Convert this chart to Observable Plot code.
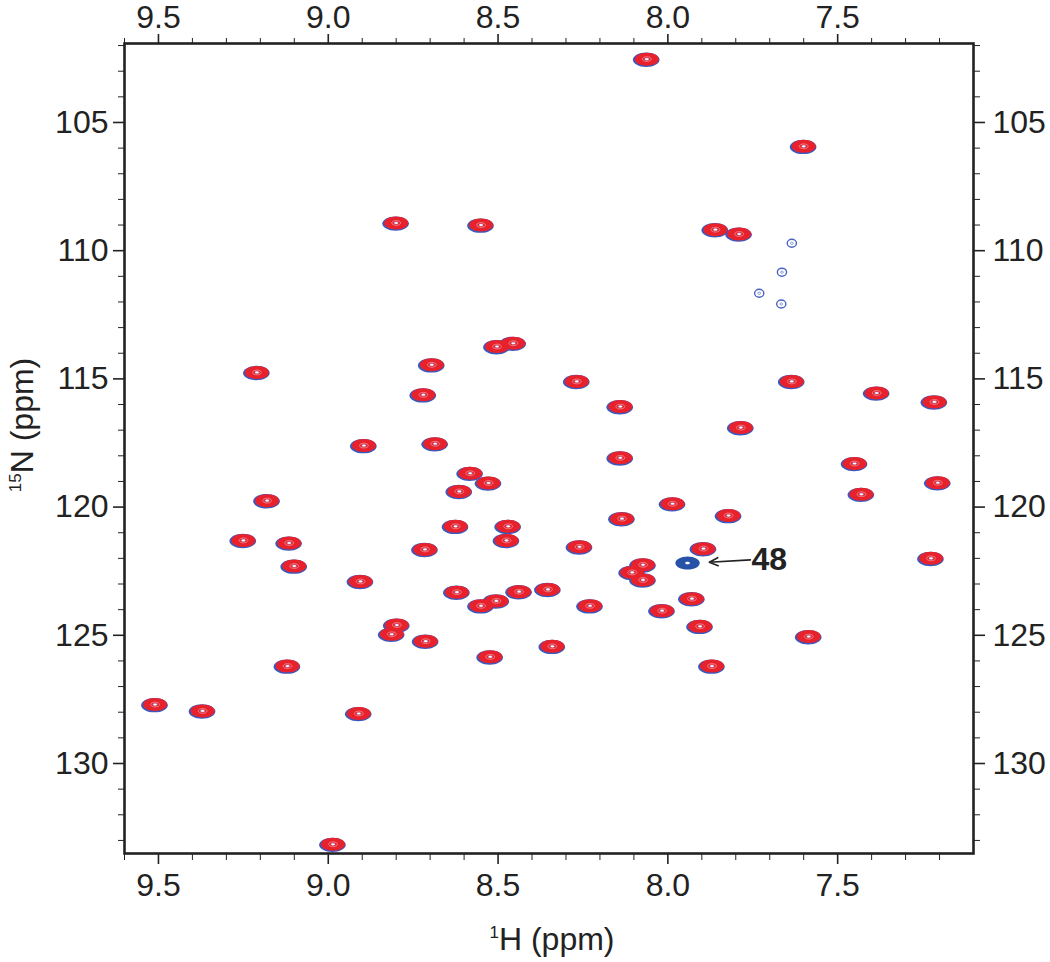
<!DOCTYPE html>
<html><head><meta charset="utf-8">
<script src="https://cdn.jsdelivr.net/npm/d3@7"></script>
<script src="https://cdn.jsdelivr.net/npm/@observablehq/plot@0.6"></script>
<style>
body{margin:0;background:#fff;}
svg text{font-family:"Liberation Sans",Arial,sans-serif;}
</style></head><body><div id="chart"></div>
<script>
// Cross peaks (1H ppm, 15N ppm) present in both spectra (red over blue)
const peakH = [8.062,7.60,8.80,8.55,7.86,7.79,8.503,8.455,8.695,8.72,8.268,8.14,8.685,8.582,8.528,8.614,8.14,8.135,7.986,7.821,7.895,8.073,8.073,8.105,7.929,8.017,8.905,8.621,8.55,8.505,8.438,8.353,8.229,8.798,8.813,8.713,8.523,8.34,9.51,8.986,
  9.21,8.895,9.18,9.25,9.115,9.10,9.12,9.37,8.91,8.715,8.625,8.47,8.475,8.26,7.635,7.385,7.215,7.785,7.45,7.43,7.205,7.225,7.585,7.905,7.87];
const peakN = [102.53,105.93,108.92,109.0,109.18,109.35,113.74,113.61,114.45,115.62,115.10,116.08,117.53,118.68,119.06,119.39,118.08,120.45,119.87,120.33,121.62,122.25,122.84,122.55,123.57,124.04,122.9,123.32,123.85,123.66,123.30,123.21,123.85,124.60,124.96,125.23,125.84,125.43,127.70,133.15,
  114.75,117.6,119.75,121.3,121.4,122.3,126.2,127.95,128.05,121.65,120.75,120.75,121.3,121.55,115.1,115.55,115.9,116.9,118.3,119.5,119.05,122.0,125.05,124.65,126.2];
// Weak peaks seen only in the blue spectrum
const weakH = [7.635,7.664,7.731,7.666];
const weakN = [109.71,110.84,111.66,112.08];
// Residue 48 (blue spectrum only)
const res48H = [7.942];
const res48N = [122.18];
const res48Label = ["48"];
const arrowH = [7.757, 7.878];
const arrowN = [122.06, 122.15];
// Axes
const xMajor = [9.5, 9.0, 8.5, 8.0, 7.5];
const xMinor = [9.6,9.4,9.3,9.2,9.1,8.9,8.8,8.7,8.6,8.4,8.3,8.2,8.1,7.9,7.8,7.7,7.6,7.4,7.3,7.2];
const yMajor = [105, 110, 115, 120, 125, 130];
const yMinor = [102,103,104,106,107,108,109,111,112,113,114,116,117,118,119,121,122,123,124,126,127,128,129,131,132,133];
const xTitle = ["1", "H (ppm)"];
const yTitle = ["15", "N (ppm)"];

const peaks = peakH.map((h, i) => ({h, n: peakN[i]}));
const weak = weakH.map((h, i) => ({h, n: weakN[i]}));
const p48 = res48H.map((h, i) => ({h, n: res48N[i], label: res48Label[i]}));
const arrow = [{x1: arrowH[0], y1: arrowN[0], x2: arrowH[1], y2: arrowN[1]}];

function ellipseSymbol(ratio) {
  return {draw(ctx, size) {
    const r = Math.sqrt(size / Math.PI), rx = r * ratio, ry = r, k = 0.5523;
    ctx.moveTo(rx, 0);
    ctx.bezierCurveTo(rx, ry * k, rx * k, ry, 0, ry);
    ctx.bezierCurveTo(-rx * k, ry, -rx, ry * k, -rx, 0);
    ctx.bezierCurveTo(-rx, -ry * k, -rx * k, -ry, 0, -ry);
    ctx.bezierCurveTo(rx * k, -ry, rx, -ry * k, rx, 0);
    ctx.closePath();
  }};
}
const ellipse = ellipseSymbol(1.85);
const ring = ellipseSymbol(1.15);

const FS = 32;
const ink = "#222";
const chart = Plot.plot({
  width: 1050, height: 962,
  marginLeft: 124, marginRight: 77, marginTop: 43, marginBottom: 109,
  style: {fontFamily: "Liberation Sans, Arial, sans-serif", fontSize: FS + "px", color: ink, background: "#fff"},
  x: {domain: [9.6, 7.1]},
  y: {domain: [133.51, 101.92]},
  marks: [
    // blue contour (under)
    Plot.dot(peaks, {x: "h", y: "n", symbol: ellipse, r: 7.2, fill: "#3a58bd", dx: -0.6, dy: 0.6}),
    // red contour
    Plot.dot(peaks, {x: "h", y: "n", symbol: ellipse, r: 6.5, fill: "#e8222c"}),
    Plot.dot(peaks, {x: "h", y: "n", symbol: ellipse, r: 2.4, fill: "none", stroke: "#f39aa0", strokeWidth: 0.7}),
    Plot.dot(peaks, {x: "h", y: "n", symbol: ellipse, r: 1.1, fill: "#fff", stroke: "#8ea2de", strokeWidth: 0.5}),
    // weak blue-only peaks
    Plot.dot(weak, {x: "h", y: "n", symbol: ring, r: 4, fill: "none", stroke: "#4a62c2", strokeWidth: 1.4}),
    Plot.dot(weak, {x: "h", y: "n", symbol: ring, r: 1.2, fill: "none", stroke: "#6f84d0", strokeWidth: 0.8}),
    // residue 48
    Plot.dot(p48, {x: "h", y: "n", symbol: ellipse, r: 6.6, fill: "#2752a8"}),
    Plot.dot(p48, {x: "h", y: "n", symbol: ellipse, r: 1.3, fill: "#fff"}),
    Plot.arrow(arrow, {x1: "x1", y1: "y1", x2: "x2", y2: "y2", stroke: ink, strokeWidth: 1.6, headLength: 9, headAngle: 50}),
    Plot.text(p48, {x: arrowH[0], y: "n", text: "label", textAnchor: "start", dx: 1, dy: -3, fontWeight: "bold", fontSize: FS, fill: ink, lineAnchor: "middle"}),
    // axes: top / bottom
    Plot.axisX({anchor: "top", ticks: xMajor, tickSize: 10, tickPadding: 6, tickFormat: d => d.toFixed(1), fontSize: FS, stroke: ink, strokeWidth: 1.6, label: null, fill: ink}),
    Plot.axisX({anchor: "top", ticks: xMinor, tickSize: 6, tickFormat: () => "", stroke: ink, strokeWidth: 1, label: null}),
    Plot.axisX({anchor: "bottom", ticks: xMajor, tickSize: 11, tickPadding: 9, tickFormat: d => d.toFixed(1), fontSize: FS, stroke: ink, strokeWidth: 1.6, label: null, fill: ink}),
    Plot.axisX({anchor: "bottom", ticks: xMinor, tickSize: 7, tickFormat: () => "", stroke: ink, strokeWidth: 1, label: null}),
    // axes: left / right
    Plot.axisY({anchor: "left", ticks: yMajor, tickSize: 11, tickPadding: 5, tickFormat: d => String(d), fontSize: FS, stroke: ink, strokeWidth: 1.6, label: null, fill: ink}),
    Plot.axisY({anchor: "left", ticks: yMinor, tickSize: 6, tickFormat: () => "", stroke: ink, strokeWidth: 1, label: null}),
    Plot.axisY({anchor: "right", ticks: yMajor, tickSize: 11, tickPadding: 8, tickFormat: d => String(d), fontSize: FS, stroke: ink, strokeWidth: 1.6, label: null, fill: ink}),
    Plot.axisY({anchor: "right", ticks: yMinor, tickSize: 6, tickFormat: () => "", stroke: ink, strokeWidth: 1, label: null}),
    Plot.frame({stroke: ink, strokeWidth: 2.6})
  ]
});
document.getElementById("chart").appendChild(chart);

// Axis titles with superscript isotopes
const svg = d3.select(chart);
const xt = svg.append("text").attr("x", 552).attr("y", 950).attr("text-anchor", "middle")
  .attr("fill", ink).style("font-size", "32px");
xt.append("tspan").attr("dy", "-12px").style("font-size", "17px").text(xTitle[0]);
xt.append("tspan").attr("dy", "12px").text(xTitle[1]);
const yt = svg.append("text").attr("transform", "translate(33,425) rotate(-90)").attr("text-anchor", "middle")
  .attr("fill", ink).style("font-size", "32px");
yt.append("tspan").attr("dy", "-12px").style("font-size", "17px").text(yTitle[0]);
yt.append("tspan").attr("dy", "12px").text(yTitle[1]);
</script></body></html>
